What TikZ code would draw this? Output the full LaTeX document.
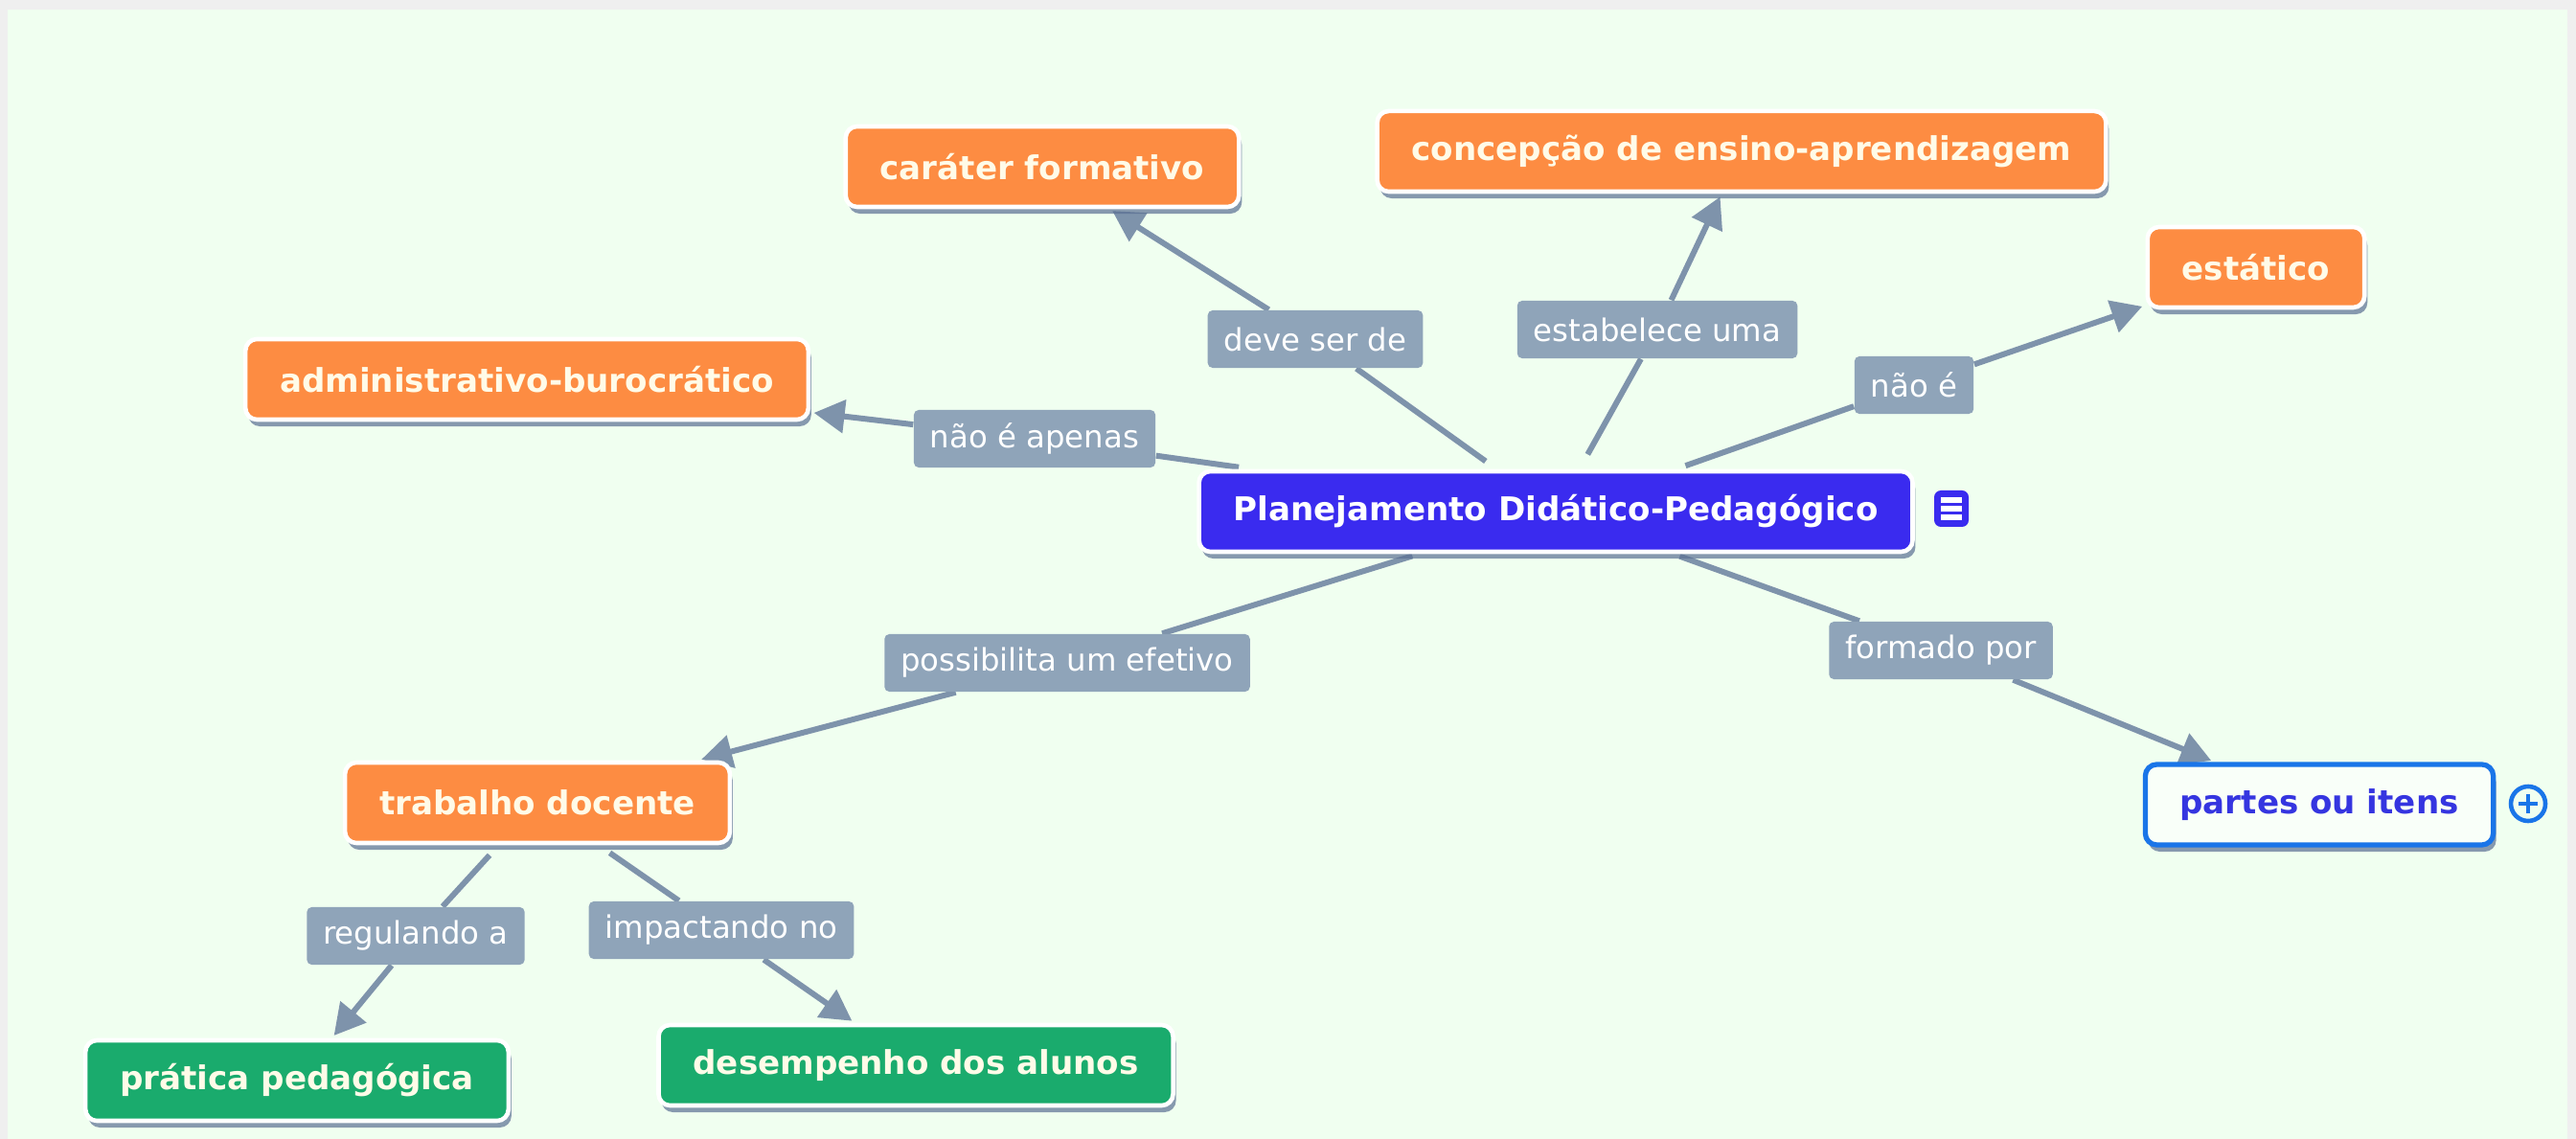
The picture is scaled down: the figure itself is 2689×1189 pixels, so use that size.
\documentclass[tikz,border=0pt]{standalone}
\usepackage{fontspec}
\setmainfont{DejaVu Sans}
\usetikzlibrary{arrows.meta,shadows,backgrounds}

\definecolor{bgGreen}{HTML}{F0FFF0}
\definecolor{frameGray}{HTML}{EFEFEF}
\definecolor{conceptOrange}{HTML}{FD8C42}
\definecolor{conceptGreen}{HTML}{1AAB6D}
\definecolor{mainBlue}{HTML}{3A2BEF}
\definecolor{linkBlue}{HTML}{1A75E8}
\definecolor{linkText}{HTML}{3535E0}
\definecolor{labelGray}{HTML}{8FA4B9}
\definecolor{lineGray}{HTML}{7E93AB}
\definecolor{shadowBlue}{HTML}{5A6F92}
\definecolor{creamText}{HTML}{FFFBE8}

\tikzset{
  concept/.style={rounded corners=0.12cm, draw=white, line width=1.3pt,
    minimum height=0.84cm, inner xsep=0.36cm, text=creamText,
    font=\fontsize{9.7}{12}\selectfont\bfseries,
    drop shadow={shadow xshift=0.3mm, shadow yshift=-0.7mm, fill=shadowBlue, opacity=0.7}},
  orangebox/.style={concept, fill=conceptOrange},
  greenbox/.style={concept, fill=conceptGreen},
  mainbox/.style={concept, fill=mainBlue, text=white},
  linkbox/.style={concept, fill=white!60!bgGreen, draw=linkBlue, line width=1.5pt, text=linkText},
  linklabel/.style={fill=labelGray, rounded corners=0.05cm, minimum height=0.6cm,
    inner xsep=0.17cm, text=white, font=\fontsize{9.2}{11}\selectfont},
  conn/.style={draw=lineGray, line width=1.7pt},
  tip/.style={-{Triangle[length=0.32cm, width=0.34cm]}, shorten >=1pt},
}

\begin{document}
\begin{tikzpicture}[x=0.01cm, y=-0.01cm]
    \useasboundingbox (0,0) rectangle (2689,1189);
    \begin{scope}[on background layer]
        \fill[frameGray] (0,0) rectangle (2689,1189);
        \fill[bgGreen] (8,10) rectangle (2680,1189);
    \end{scope}

    % Centre
    \node[mainbox] (plan) at (1624,534) {Planejamento Didático-Pedagógico};
    \fill[mainBlue, rounded corners=2pt] (2019,512) rectangle (2055,550);
    \draw[white, line width=1.6pt] (2026,522) -- (2048,522) (2026,531) -- (2048,531) (2026,540) -- (2048,540);

    % Upper concepts
    \node[orangebox] (carater) at (1088,174) {caráter formativo};
    \node[orangebox] (concepcao) at (1818,158) {concepção de ensino-aprendizagem};
    \node[orangebox] (estatico) at (2355,279) {estático};
    \node[orangebox] (admin) at (550,396) {administrativo-burocrático};

    % Lower concepts
    \node[orangebox] (trabalho) at (561,838) {trabalho docente};
    \node[linkbox] (partes) at (2421,840) {partes ou itens};
    \draw[linkBlue, line width=1.3pt] (2639,839) circle (0.18cm);
    \draw[linkBlue, line width=1.3pt] (2629,839) -- (2649,839) (2639,829) -- (2639,849);
    \node[greenbox] (pratica) at (310,1128) {prática pedagógica};
    \node[greenbox] (desempenho) at (956,1112) {desempenho dos alunos};

    % Linking phrases
    \node[linklabel] (lDeve) at (1373,354) {deve ser de};
    \node[linklabel] (lEstab) at (1730,344) {estabelece uma};
    \node[linklabel] (lNao) at (1998,402) {não é};
    \node[linklabel] (lApenas) at (1080,458) {não é apenas};
    \node[linklabel] (lPossib) at (1114,692) {possibilita um efetivo};
    \node[linklabel] (lFormado) at (2026,679) {formado por};
    \node[linklabel] (lRegul) at (434,977) {regulando a};
    \node[linklabel] (lImpact) at (753,971) {impactando no};

    % Connectors
    \begin{scope}[on background layer]
        \draw[conn, shorten <=4pt] (plan) -- (lDeve);
        \draw[conn, tip] (lDeve) -- (carater);
        \draw[conn, shorten <=5pt] (plan) -- (lEstab);
        \draw[conn, tip] (lEstab) -- (concepcao);
        \draw[conn, shorten <=3pt] (plan) -- (lNao);
        \draw[conn, tip] (lNao) -- (estatico);
        \draw[conn, shorten <=4pt] (plan) -- (lApenas);
        \draw[conn, tip] (lApenas) -- (admin);
        \draw[conn, shorten <=2pt] (plan) -- (lPossib);
        \draw[conn, tip] (lPossib) -- (trabalho);
        \draw[conn, shorten <=2pt] (plan) -- (lFormado);
        \draw[conn, tip] (lFormado) -- (partes);
        \draw[conn, shorten <=4pt] (trabalho) -- (lRegul);
        \draw[conn, tip] (lRegul) -- (pratica);
        \draw[conn, shorten <=4pt] (trabalho) -- (lImpact);
        \draw[conn, tip] (lImpact) -- (desempenho);
    \end{scope}
\end{tikzpicture}
\end{document}
